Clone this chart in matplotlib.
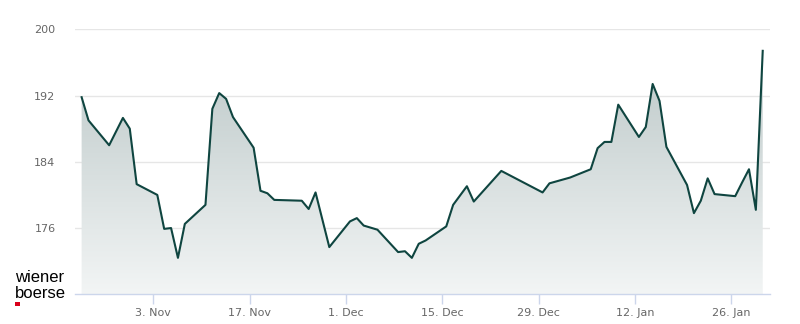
import numpy as np
import pandas as pd
import matplotlib
matplotlib.use("Agg")
import matplotlib.pyplot as plt
import matplotlib.dates as mdates
from matplotlib.colors import LinearSegmentedColormap

dates = ["2025-10-23", "2025-10-24", "2025-10-27", "2025-10-29", "2025-10-30", "2025-10-31",
         "2025-11-03", "2025-11-04", "2025-11-05", "2025-11-06", "2025-11-07",
         "2025-11-10", "2025-11-11", "2025-11-12", "2025-11-13", "2025-11-14",
         "2025-11-17", "2025-11-18", "2025-11-19", "2025-11-20",
         "2025-11-24", "2025-11-25", "2025-11-26", "2025-11-28",
         "2025-12-01", "2025-12-02", "2025-12-03", "2025-12-05",
         "2025-12-08", "2025-12-09", "2025-12-10", "2025-12-11", "2025-12-12",
         "2025-12-15", "2025-12-16", "2025-12-18", "2025-12-19",
         "2025-12-23", "2025-12-29", "2025-12-30", "2026-01-02",
         "2026-01-05", "2026-01-06", "2026-01-07", "2026-01-08", "2026-01-09",
         "2026-01-12", "2026-01-13", "2026-01-14", "2026-01-15", "2026-01-16",
         "2026-01-19", "2026-01-20", "2026-01-21", "2026-01-22", "2026-01-23",
         "2026-01-26", "2026-01-27", "2026-01-28", "2026-01-29", "2026-01-30"]
prices = [191.8, 189.0, 186.0, 189.3, 188.0, 181.3,
          180.0, 175.9, 176.0, 172.4, 176.5,
          178.8, 190.4, 192.3, 191.6, 189.4,
          185.7, 180.5, 180.2, 179.4,
          179.3, 178.3, 180.3, 173.7,
          176.8, 177.2, 176.3, 175.8,
          173.1, 173.2, 172.4, 174.1, 174.5,
          176.2, 178.8, 181.05, 179.2,
          182.9, 180.3, 181.4, 182.1,
          183.1, 185.65, 186.4, 186.4, 190.9,
          187.0, 188.2, 193.4, 191.35, 185.8,
          181.2, 177.8, 179.3, 182.0, 180.1,
          179.85, 181.5, 183.1, 178.2, 197.4]
tick_dates = ["2025-11-03", "2025-11-17", "2025-12-01", "2025-12-15",
              "2025-12-29", "2026-01-12", "2026-01-26"]
tick_labels = ["3. Nov", "17. Nov", "1. Dec", "15. Dec", "29. Dec", "12. Jan", "26. Jan"]
y_ticks = [176, 184, 192, 200]

line_color = "#0f4540"
grid_color = "#e6e6e6"
axis_color = "#ccd6eb"
label_color = "#666666"

x = pd.to_datetime(dates) + pd.Timedelta(hours=14)
xn = mdates.date2num(x)
y = np.array(prices)

fig = plt.figure(figsize=(8, 3.24), dpi=100)
ax = fig.add_axes([75 / 800, (324 - 294.3) / 324, (770 - 75) / 800, (294.3 - 29.3) / 324])

ymin, ymax = 168, 200
x0 = mdates.date2num(pd.Timestamp("2025-11-03")) - 11.38
x1 = mdates.date2num(pd.Timestamp("2025-11-03")) + 89.64
ax.set_xlim(x0, x1)
ax.set_ylim(ymin, ymax)

# gradient fill
poly = ax.fill_between(xn, y, ymin, color="none", lw=0)
cmap = LinearSegmentedColormap.from_list("g", [(0.95, 0.96, 0.96), (0.72, 0.77, 0.77)])
grad = np.linspace(0, 1, 256).reshape(-1, 1)
im = ax.imshow(grad, extent=[x0, x1, ymin, ymax], origin="lower", aspect="auto",
               cmap=cmap, zorder=1)
path = poly.get_paths()[0]
im.set_clip_path(path, transform=ax.transData)

ax.plot(xn, y, color=line_color, lw=1.5, zorder=3, solid_joinstyle="round")

for v in y_ticks:
    ax.axhline(v, color=grid_color, lw=1, zorder=0)

for s in ["top", "right", "left"]:
    ax.spines[s].set_visible(False)
ax.spines["bottom"].set_color(axis_color)
ax.spines["bottom"].set_linewidth(1)
ax.spines["bottom"].set_zorder(4)

ax.set_xticks(mdates.date2num(pd.to_datetime(tick_dates)))
ax.set_xticklabels(tick_labels)
ax.set_yticks(y_ticks)
ax.set_yticklabels([str(v) for v in y_ticks])
ax.tick_params(axis="x", colors=axis_color, length=7, width=1, labelcolor=label_color,
               labelsize=8, pad=3)
ax.tick_params(axis="y", length=0, labelcolor=label_color, labelsize=8, pad=14)

# logo
fig.text(15 / 800, 1 - 282.5 / 324, "wiener", fontsize=12, family="Liberation Sans",
         color="black", va="baseline", ha="left")
fig.text(15 / 800, 1 - 297.5 / 324, "boerse", fontsize=12, family="Liberation Sans",
         color="black", va="baseline", ha="left")
fig.patches.append(plt.Rectangle((15 / 800, 1 - 306 / 324), 4.5 / 800, 4.5 / 324,
                                 transform=fig.transFigure, color="#d9001b", lw=0))

fig.savefig("out.png", dpi=100, facecolor="white")
